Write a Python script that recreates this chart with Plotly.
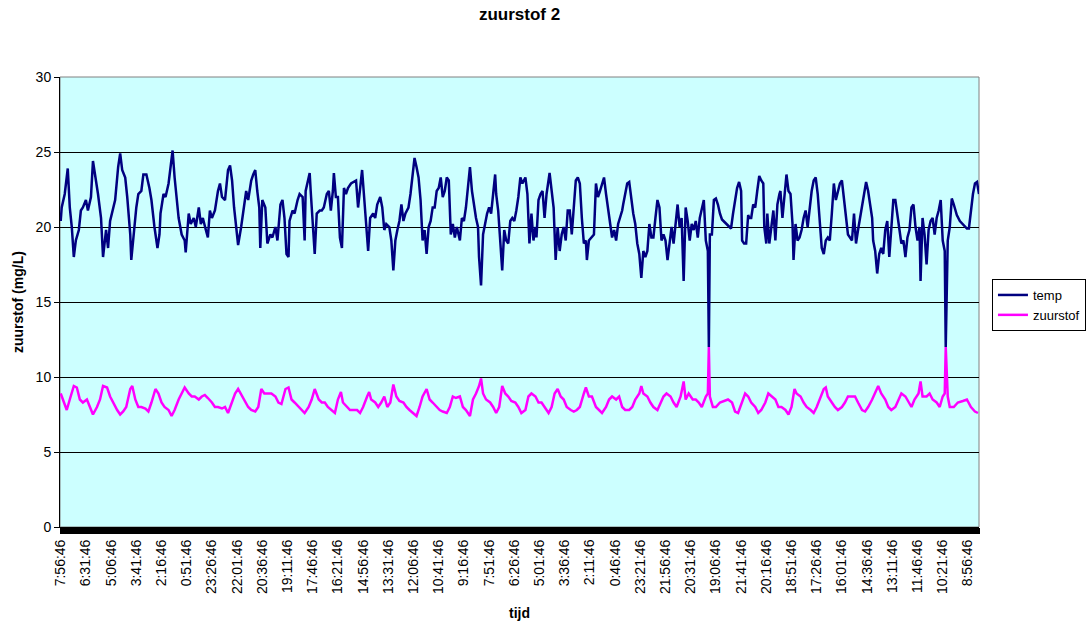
import plotly.graph_objects as go

# x-axis category labels (one label every 25 samples)
tijd_labels = [
    "7:56:46", "6:31:46", "5:06:46", "3:41:46", "2:16:46", "0:51:46", "23:26:46",
    "22:01:46", "20:36:46", "19:11:46", "17:46:46", "16:21:46", "14:56:46",
    "13:31:46", "12:06:46", "10:41:46", "9:16:46", "7:51:46", "6:26:46",
    "5:01:46", "3:36:46", "2:11:46", "0:46:46", "23:21:46", "21:56:46",
    "20:31:46", "19:06:46", "21:41:46", "20:16:46", "18:51:46", "17:26:46",
    "16:01:46", "14:36:46", "13:11:46", "11:46:46", "10:21:46", "8:56:46",
]
samples_per_label = 25
last_sample = 911

# (sample number, value)
temp = [
    (0, 20.4), (1, 21.3), (4, 22.2), (7, 23.9), (9, 21.3), (11, 20.0), (13, 18.0), (15, 19.1), (18, 19.8),
    (20, 21.1), (22, 21.3), (25, 21.8), (27, 21.1), (30, 22.0), (32, 24.4), (35, 23.1), (37, 22.2), (40, 20.6),
    (42, 18.0), (45, 19.8), (47, 18.6), (49, 20.4), (51, 20.9), (54, 21.8), (57, 24.0), (59, 24.9), (61, 23.8),
    (64, 23.3), (66, 22.0), (69, 19.5), (70, 17.8), (73, 20.0), (75, 21.3), (77, 22.2), (80, 22.4), (82, 23.5),
    (85, 23.5), (88, 22.6), (90, 21.8), (93, 20.0), (96, 18.6), (98, 19.5), (99, 20.9), (102, 22.2), (104, 22.0),
    (107, 22.9), (109, 24.0), (111, 25.1), (113, 23.3), (115, 22.0), (117, 20.6), (120, 19.5), (123, 19.1),
    (124, 18.3), (127, 20.9), (129, 20.2), (132, 20.6), (134, 20.0), (137, 21.3), (139, 20.2), (141, 20.6),
    (144, 19.8), (146, 19.3), (148, 21.1), (150, 20.6), (153, 21.1), (156, 22.4), (158, 22.9), (160, 22.0),
    (163, 21.8), (166, 23.8), (168, 24.1), (170, 23.1), (172, 21.3), (174, 20.0), (176, 18.8), (179, 20.0),
    (181, 21.1), (184, 22.4), (186, 21.8), (189, 23.1), (191, 23.5), (193, 23.8), (195, 22.4), (197, 21.3),
    (198, 18.6), (200, 21.8), (203, 21.3), (205, 18.9), (208, 19.5), (210, 19.3), (213, 20.0), (215, 19.1),
    (218, 21.5), (220, 21.8), (222, 20.6), (224, 18.2), (226, 18.0),
    (227, 20.4), (230, 21.1), (232, 20.9), (235, 21.8), (237, 22.2), (240, 22.0), (242, 19.1), (243, 22.4),
    (245, 23.1), (247, 23.6), (248, 22.4), (250, 20.2), (252, 18.2), (254, 20.9), (257, 21.1), (259, 21.1),
    (261, 21.3), (264, 22.2), (266, 22.4), (268, 21.1), (270, 22.4), (271, 23.6), (273, 22.0), (275, 22.0),
    (277, 19.3), (279, 18.6), (281, 22.6), (283, 22.2), (285, 22.6), (288, 22.9), (290, 23.0), (293, 23.1),
    (295, 21.3), (297, 22.4), (299, 23.8), (301, 22.0), (303, 19.8), (305, 18.4), (307, 20.6), (310, 20.9),
    (312, 20.6), (314, 21.5), (317, 22.0), (319, 21.3), (321, 19.8), (323, 20.2), (326, 20.0), (328, 19.1),
    (330, 17.1), (332, 19.1), (334, 19.8), (336, 20.4), (338, 21.5), (340, 20.4), (342, 20.9), (345, 21.3),
    (347, 22.2), (349, 23.3), (351, 24.6), (353, 24.0), (355, 23.3), (357, 21.8), (359, 19.1), (361, 19.8),
    (363, 18.2), (365, 20.0), (367, 20.4), (369, 21.3), (371, 21.3), (373, 22.4), (375, 22.6), (377, 23.3),
    (379, 22.0), (381, 22.4), (383, 23.3), (385, 23.1), (387, 19.5), (389, 20.2), (391, 19.3), (393, 20.0),
    (396, 19.1), (398, 20.6), (400, 20.4), (402, 21.3), (404, 22.9), (406, 24.0), (408, 22.4), (410, 21.3),
    (412, 20.6), (414, 20.0), (415, 18.0), (417, 16.1), (419, 19.5), (421, 20.2), (423, 20.9), (425, 21.3),
    (427, 20.9), (429, 22.2), (431, 23.5), (432, 22.2), (434, 21.1), (436, 19.1), (438, 17.1), (440, 19.8),
    (442, 19.1), (444, 18.9), (446, 20.4), (448, 20.6), (450, 20.4), (452, 21.1), (454, 22.0),
    (456, 23.3), (458, 22.9), (461, 23.3), (463, 22.2), (465, 18.9), (467, 20.9), (469, 19.1), (471, 20.0),
    (472, 19.3), (474, 21.8), (476, 22.2), (478, 22.4), (480, 20.6), (482, 22.2), (485, 23.6), (487, 22.2),
    (489, 21.3), (491, 17.8), (493, 20.0), (495, 18.4), (497, 19.5), (499, 20.0), (501, 19.1), (503, 21.1),
    (505, 21.1), (507, 19.5), (509, 21.3), (511, 23.1), (513, 23.3), (515, 22.9), (517, 20.6), (519, 18.9),
    (521, 19.1), (522, 17.8), (524, 19.1), (527, 19.3), (529, 19.5), (531, 22.9), (533, 22.0), (535, 22.4),
    (537, 22.9), (539, 23.3), (541, 22.2), (543, 21.1), (545, 20.0), (547, 19.3), (549, 19.8), (551, 19.1),
    (553, 20.2), (555, 20.6), (557, 21.1), (558, 21.5), (560, 22.2), (562, 22.9), (564, 23.0), (566, 21.8),
    (568, 20.9), (570, 20.2), (572, 18.9), (574, 18.2), (576, 16.6), (578, 18.4), (580, 18.0), (582, 18.4),
    (584, 20.2), (586, 19.3), (588, 19.3), (590, 20.6), (592, 21.8), (594, 21.3), (596, 19.1), (598, 19.5),
    (600, 19.1), (602, 17.8), (604, 19.1), (606, 20.0), (608, 18.9), (610, 20.4), (612, 21.5), (614, 20.0),
    (616, 20.6), (618, 16.4), (620, 21.3), (622, 20.4), (624, 19.1), (626, 20.2), (628, 19.8), (630, 20.4),
    (632, 19.3), (634, 20.6), (636, 21.3), (638, 21.8), (640, 19.1), (642, 18.4), (643, 12.0), (644, 19.5),
    (646, 19.5), (648, 21.8), (650, 21.9), (652, 21.5), (654, 20.9), (656, 20.5), (659, 20.3), (662, 20.1),
    (665, 19.9), (667, 20.9), (669, 21.8), (671, 22.6), (673, 23.0), (675, 22.4), (676, 19.1), (678, 18.9),
    (680, 18.9), (682, 20.8),
    (683, 20.6), (685, 20.6), (687, 21.5), (689, 21.3), (691, 22.4), (693, 23.4), (695, 23.1), (697, 22.9),
    (698, 20.0), (700, 18.9), (701, 20.9), (703, 18.9), (705, 20.0), (707, 21.1), (709, 19.1), (711, 21.5),
    (713, 22.2), (714, 22.4), (716, 20.6), (718, 22.2), (720, 23.5), (722, 22.4), (724, 22.2), (726, 20.2),
    (727, 17.8), (729, 20.2), (731, 19.1), (733, 19.3), (735, 19.8), (737, 20.6), (739, 21.1), (741, 20.0),
    (743, 21.3), (745, 22.4), (747, 23.1), (749, 23.3), (751, 22.2), (753, 20.0), (755, 18.6), (757, 18.2),
    (759, 19.1), (761, 19.3), (763, 19.1), (765, 20.9), (767, 22.9), (769, 21.8), (771, 22.4), (773, 22.9),
    (775, 23.1), (777, 21.8), (779, 20.6), (781, 19.5), (783, 19.3), (785, 19.1), (787, 20.9), (789, 18.9),
    (791, 19.8), (793, 20.6), (795, 21.5), (797, 22.4), (799, 23.0), (801, 22.4), (803, 21.5), (805, 20.6),
    (806, 19.1), (808, 18.4), (810, 16.9), (812, 18.2), (814, 18.6), (816, 18.2), (818, 19.8), (820, 20.4),
    (822, 18.0), (824, 20.0), (826, 21.8), (828, 21.8), (830, 20.9), (832, 19.8), (834, 18.9), (836, 19.1),
    (838, 18.0), (840, 19.3), (842, 19.8), (844, 21.3), (846, 21.5), (848, 20.0), (850, 19.1), (852, 20.0),
    (853, 16.4), (855, 20.6), (857, 19.5), (859, 17.5), (861, 19.8), (863, 20.4), (865, 20.6), (867, 19.5),
    (869, 20.6), (871, 21.1), (873, 21.8), (875, 19.1), (877, 18.4), (878, 12.0), (880, 19.1), (882, 20.0),
    (884, 21.9), (886, 21.5), (889, 20.8), (892, 20.4), (895, 20.2), (899, 19.9), (901, 19.9), (903, 21.3),
    (905, 22.2), (907, 22.9), (909, 23.0), (911, 22.2),
]

zuurstof = [
    (0, 8.9), (3, 8.3), (6, 7.8), (9, 8.5), (13, 9.4), (16, 9.3), (19, 8.5), (22, 8.3), (26, 8.5), (29, 8.0),
    (32, 7.5), (36, 8.0), (39, 8.5), (42, 9.4), (46, 9.3), (49, 8.7), (52, 8.3), (56, 7.8), (59, 7.5), (62, 7.7),
    (65, 8.0), (69, 9.2), (71, 9.4), (74, 8.5), (77, 8.0), (80, 8.0), (84, 7.9), (87, 7.7), (90, 8.3), (94, 9.2),
    (97, 8.9), (100, 8.3), (103, 8.0), (107, 7.8), (110, 7.4), (113, 7.8), (117, 8.5), (120, 8.9), (123, 9.3),
    (127, 8.9), (130, 8.7), (133, 8.7), (137, 8.5), (140, 8.7), (143, 8.8), (146, 8.6), (150, 8.3), (153, 8.0),
    (156, 8.0), (160, 7.9), (163, 8.0), (166, 7.6), (170, 8.3), (173, 8.9), (176, 9.2), (180, 8.7), (183, 8.3),
    (186, 8.0), (189, 7.8), (193, 7.7), (196, 8.0), (199, 9.2), (202, 8.9), (205, 8.9), (209, 8.9), (213, 8.7),
    (216, 8.3), (219, 8.2), (223, 9.2), (226, 9.3),
    (229, 8.5), (232, 8.3), (236, 8.0), (239, 7.8), (242, 7.6), (246, 8.0), (249, 8.5), (252, 9.2), (256, 8.5),
    (259, 8.3), (262, 8.3), (265, 8.0), (269, 7.8), (272, 7.6), (275, 8.5), (278, 9.0), (280, 8.3), (284, 8.0),
    (287, 7.8), (290, 7.8), (294, 7.8), (297, 7.6), (300, 8.0), (304, 8.7), (306, 9.0), (308, 8.5), (312, 8.3),
    (315, 8.0), (318, 8.3), (321, 8.7), (324, 8.0), (327, 8.3), (330, 9.5), (333, 8.7), (336, 8.4), (340, 8.3),
    (343, 8.0), (346, 7.8), (349, 7.6), (353, 7.4), (356, 8.0), (359, 8.7), (363, 9.2), (366, 8.5), (369, 8.3),
    (373, 8.0), (376, 7.8), (379, 7.7), (383, 7.6), (386, 8.0), (389, 8.7), (392, 8.6), (396, 8.7), (399, 8.0),
    (402, 7.8), (406, 7.4), (409, 8.5), (412, 8.9), (415, 9.4), (417, 9.9), (419, 8.9), (422, 8.5), (426, 8.3),
    (429, 8.0), (432, 7.6), (435, 8.0), (438, 9.4), (441, 8.9), (444, 8.7), (447, 8.4), (451, 8.3), (454, 8.0),
    (457, 7.6), (461, 7.8), (464, 8.7), (467, 8.9), (471, 8.7), (474, 8.3), (477, 8.3), (480, 8.0), (484, 7.6),
    (487, 8.0), (490, 8.9), (493, 9.2), (496, 8.7), (499, 8.5), (502, 8.0), (506, 7.8), (509, 7.7), (512, 7.8),
    (515, 8.0), (519, 8.9), (521, 9.3), (524, 8.7), (527, 8.7), (531, 8.0), (534, 7.8), (537, 7.6), (541, 8.0),
    (544, 8.5), (547, 8.7), (551, 8.5), (554, 8.7), (557, 8.0), (560, 7.8), (564, 7.8), (567, 8.0), (570, 8.5),
    (574, 8.9), (576, 9.4), (578, 8.9), (582, 8.7), (585, 8.3), (588, 8.0), (592, 7.8), (595, 8.3), (598, 8.7),
    (601, 8.9), (605, 8.7), (608, 8.3), (611, 8.0), (615, 8.7), (618, 9.7), (620, 8.5), (623, 8.9), (627, 8.5),
    (630, 8.5), (633, 8.3), (636, 8.0), (640, 8.7), (642, 8.9), (643, 12.0), (644, 8.7), (647, 8.0), (650, 8.0),
    (654, 8.3), (658, 8.4), (662, 8.5), (666, 8.3), (669, 7.7), (672, 7.6), (676, 8.3), (679, 8.9), (682, 8.7),
    (685, 8.3), (689, 8.0), (692, 7.6), (695, 7.8), (699, 8.3), (702, 8.9), (705, 8.7), (709, 8.5), (712, 8.0),
    (715, 8.0), (719, 7.8), (722, 7.5), (725, 8.0), (728, 9.2), (730, 8.9), (734, 8.7), (737, 8.3), (740, 8.0),
    (744, 7.8), (747, 7.6), (750, 8.0), (754, 8.7), (757, 9.2), (759, 9.3), (761, 8.7), (765, 8.3), (768, 8.0),
    (771, 7.8), (775, 8.0), (778, 8.3), (781, 8.7), (785, 8.7), (788, 8.7), (791, 8.3), (795, 7.8), (798, 7.7),
    (801, 8.0), (805, 8.5), (808, 8.9), (811, 9.4), (814, 8.9), (818, 8.5), (821, 8.0), (824, 7.8), (828, 8.0),
    (831, 8.5), (834, 8.9), (838, 8.7), (841, 8.3), (844, 8.0), (847, 8.5), (851, 8.9), (853, 9.7), (855, 8.7),
    (859, 8.7), (862, 8.9), (865, 8.5), (869, 8.3), (872, 8.0), (875, 8.7), (877, 8.9), (878, 12.0), (880, 8.7),
    (882, 8.0), (886, 8.0), (890, 8.3), (895, 8.4), (899, 8.5), (903, 8.0), (907, 7.7), (910, 7.6),
]

temp_x, temp_y = zip(*temp)
zuur_x, zuur_y = zip(*zuurstof)

FONT = "Arial, 'Liberation Sans', sans-serif"

fig = go.Figure()
fig.add_trace(go.Scatter(x=temp_x, y=temp_y, mode="lines", name="temp",
                         line=dict(color="#000080", width=2.5)))
fig.add_trace(go.Scatter(x=zuur_x, y=zuur_y, mode="lines", name="zuurstof",
                         line=dict(color="#FF00FF", width=2.5)))

fig.update_layout(
    width=1087, height=624,
    margin=dict(l=60, r=108, t=77, b=97, autoexpand=False),
    paper_bgcolor="white", plot_bgcolor="#CCFFFF",
    font=dict(family=FONT, size=14, color="black"),
    title=dict(text="<b>zuurstof 2</b>", x=0.5, xref="paper", xanchor="center",
               y=1 - 14 / 624, yref="container", yanchor="middle",
               font=dict(family=FONT, size=17, color="black")),
    showlegend=True,
    legend=dict(x=1.0141, y=0.5511, xanchor="left", yanchor="top",
                bgcolor="white", bordercolor="black", borderwidth=1,
                font=dict(family=FONT, size=13, color="black"),
                itemwidth=30, tracegroupgap=0),
    shapes=[dict(type="rect", xref="paper", yref="paper", x0=0, x1=1, y0=0, y1=1,
                 line=dict(color="#808080", width=1), layer="below")],
    annotations=[
        dict(text="<b>zuurstof (mg/L)</b>", xref="paper", yref="paper",
             x=-42 / 919, y=0.5, textangle=-90, showarrow=False,
             xanchor="center", yanchor="middle", font=dict(family=FONT, size=14)),
        dict(text="<b>tijd</b>", xref="paper", yref="paper",
             x=0.5, y=-86 / 450, showarrow=False,
             xanchor="center", yanchor="middle", font=dict(family=FONT, size=14)),
    ],
)

fig.update_xaxes(
    range=[-0.7, last_sample],
    tickmode="array",
    tickvals=[i * samples_per_label for i in range(len(tijd_labels))],
    ticktext=tijd_labels,
    tickangle=-90,
    ticks="outside", ticklen=6, tickcolor="black", tickwidth=2,
    minor=dict(ticks="outside", ticklen=6, tickcolor="black", tickwidth=2,
               tick0=0, dtick=1, showgrid=False),
    showgrid=False, zeroline=False,
    showline=True, linecolor="black", linewidth=1,
    tickfont=dict(family=FONT, size=14),
)
fig.update_yaxes(
    range=[0, 30], tick0=0, dtick=5,
    showgrid=True, gridcolor="black", gridwidth=1,
    ticks="outside", ticklen=5, tickcolor="black",
    showline=True, linecolor="black", linewidth=1,
    zeroline=False,
    tickfont=dict(family=FONT, size=14),
)

fig.write_html("out.html")
